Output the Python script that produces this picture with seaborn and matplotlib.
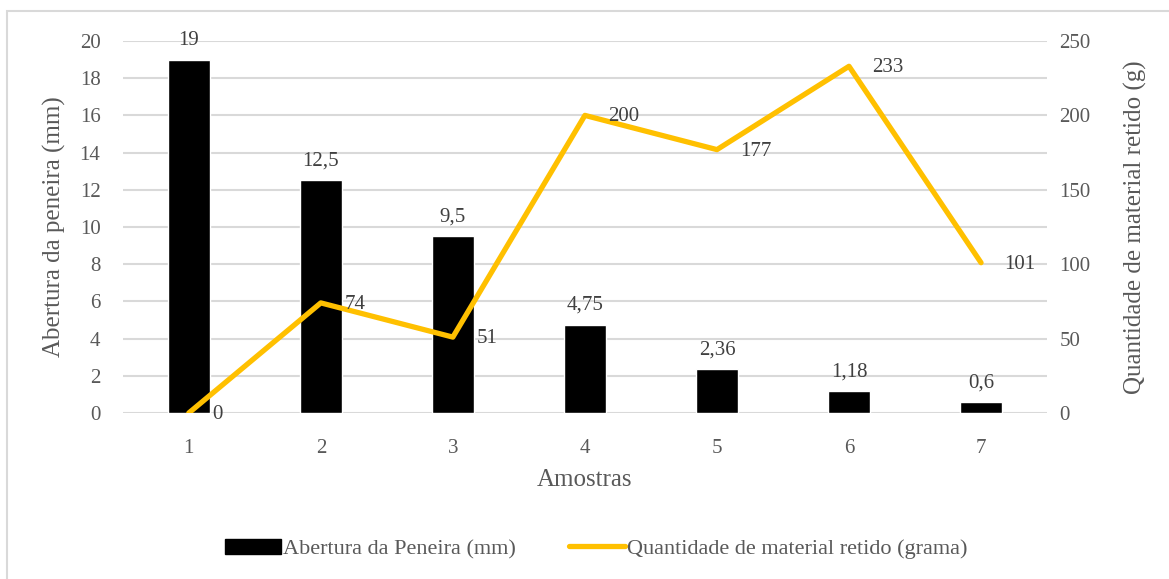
import numpy as np
import pandas as pd
import seaborn as sns
import matplotlib.pyplot as plt
from matplotlib.patches import Rectangle
from matplotlib.lines import Line2D

# data
amostras = ['1', '2', '3', '4', '5', '6', '7']
abertura_mm = [19, 12.5, 9.5, 4.75, 2.36, 1.18, 0.6]
abertura_txt = ['19', '12,5', '9,5', '4,75', '2,36', '1,18', '0,6']
material_g = [0, 74, 51, 200, 177, 233, 101]

GRAY = '#595959'
LABEL = '#404040'
GRID = '#d9d9d9'
YELLOW = '#FFC000'

sns.set_theme(style='white')
plt.rcParams['font.family'] = ['Liberation Serif', 'DejaVu Serif']

df = pd.DataFrame({'amostra': amostras, 'abertura': abertura_mm, 'material': material_g})
df['pos'] = np.arange(len(df))

fig = plt.figure(figsize=(11.69, 5.79), dpi=100)
ax = fig.add_axes([0.105, 0.2867, 0.7907, 0.6425])

sns.barplot(data=df, x='amostra', y='abertura', color='black', width=0.32,
            saturation=1, ax=ax, zorder=2)
ax.set_ylim(0, 20)
ax.set_yticks(range(0, 21, 2))
ax.set_xlim(-0.5, len(df) - 0.5)
ax.grid(axis='y', color=GRID, linewidth=1.5, zorder=0)
ax.set_axisbelow(True)
for s in ax.spines.values():
    s.set_visible(False)
ax.tick_params(axis='x', colors=GRAY, labelsize=15, length=0, pad=19)
ax.tick_params(axis='y', colors=GRAY, labelsize=15, length=0, pad=16)
ax.set_xlabel('Amostras', fontsize=18, color=GRAY)
ax.set_ylabel('Abertura da peneira (mm)', fontsize=18, color=GRAY)
ax.xaxis.set_label_coords(0.5, -0.18)
ax.xaxis.label.set_va('center')
ax.yaxis.set_label_coords(-0.0736, 0.5)
ax.yaxis.label.set_va('center')

for i, (v, t) in enumerate(zip(abertura_mm, abertura_txt)):
    ax.annotate(t, (i, v), xytext=(0, 7), textcoords='offset points',
                ha='center', va='bottom', fontsize=15, color=LABEL)

ax2 = ax.twinx()
sns.lineplot(data=df, x='pos', y='material', color=YELLOW, linewidth=3.8,
             ax=ax2, zorder=3)
ax2.set_ylim(0, 250)
ax2.set_yticks(range(0, 251, 50))
ax2.set_xlim(-0.5, len(df) - 0.5)
for s in ax2.spines.values():
    s.set_visible(False)
ax2.tick_params(axis='y', colors=GRAY, labelsize=15, length=0, pad=9)
ax2.set_ylabel('Quantidade de material retido (g)', fontsize=18, color=GRAY)
ax2.yaxis.set_label_coords(1.0952, 0.5)
ax2.yaxis.label.set_va('center')
ax2.set_xlabel('')

for i, v in enumerate(material_g):
    ax2.annotate(str(v), (i, v), xytext=(17, -1), textcoords='offset points',
                 ha='left', va='center', fontsize=15, color=LABEL)

handles = [Rectangle((0, 0), 1, 1, color='black'),
           Line2D([0], [0], color=YELLOW, linewidth=3.8)]
fig.legend(handles, ['Abertura da Peneira (mm)', 'Quantidade de material retido (grama)'],
           loc='center', bbox_to_anchor=(0.51, 0.052), ncol=2, frameon=False,
           fontsize=16, labelcolor=GRAY, handlelength=2.5, handletextpad=0.1,
           columnspacing=2.4)

# light border around the chart area, as in the source
fig.patches.append(Rectangle((7 / 1169, -0.05), 1.1, 1 - 11 / 579 + 0.05,
                             transform=fig.transFigure, fill=False,
                             edgecolor=GRID, linewidth=1.5))

fig.savefig('out.png', dpi=100)
